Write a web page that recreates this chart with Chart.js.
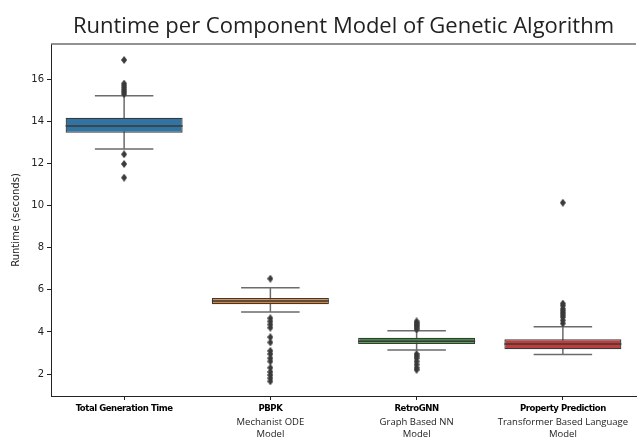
<!DOCTYPE html>
<html>
<head>
<meta charset="utf-8">
<script src="https://cdn.jsdelivr.net/npm/chart.js@4.4.1/dist/chart.umd.min.js"></script>
<style>
html, body { margin: 0; padding: 0; background: #fff; }
</style>
</head>
<body>
<canvas id="chart" width="640" height="442"></canvas>
<script>
// box plot values
const categories = ['Total Generation Time', 'PBPK', 'RetroGNN', 'Property Prediction'];
const subtitles = [[], ['Mechanist ODE', 'Model'], ['Graph Based NN', 'Model'], ['Transformer Based Language', 'Model']];
const q1 = [13.46, 5.31, 3.42, 3.18];
const medians = [13.78, 5.47, 3.56, 3.42];
const q3 = [14.18, 5.61, 3.72, 3.65];
const whiskerLow = [12.69, 4.95, 3.14, 2.93];
const whiskerHigh = [15.22, 6.10, 4.06, 4.25];
const outliers = [
	[16.92, 15.8, 15.7, 15.6, 15.5, 15.4, 15.3, 12.44, 11.98, 11.33],
	[6.53, 4.65, 4.5, 4.35, 4.2, 3.75, 3.5, 3.1, 2.95, 2.75, 2.6, 2.3, 2.1, 1.95, 1.8, 1.65],
	[4.5, 4.42, 4.35, 4.28, 4.2, 4.12, 2.95, 2.85, 2.75, 2.6, 2.45, 2.3, 2.2],
	[10.14, 5.35, 5.25, 5.1, 5.0, 4.9, 4.8, 4.7, 4.55, 4.4]
];
const yTicks = [2, 4, 6, 8, 10, 12, 14, 16];

const boxColors = ['#3274a1', '#e1812c', '#3a923a', '#c03d3e'];
const edgeColor = '#3a3a3a';
const whiskerColor = '#6b6b6b';
const titleText = 'Runtime per Component Model of Genetic Algorithm';

(function () {
	// thin diamond marker like matplotlib 'd'
	const diamond = document.createElement('canvas');
	diamond.width = 6; diamond.height = 8;
	const dctx = diamond.getContext('2d');
	dctx.fillStyle = edgeColor;
	dctx.beginPath();
	dctx.moveTo(3, 0); dctx.lineTo(6, 4); dctx.lineTo(3, 8); dctx.lineTo(0, 4);
	dctx.closePath(); dctx.fill();

	const outlierPoints = [];
	outliers.forEach((list, i) => list.forEach(v => outlierPoints.push({ x: categories[i], y: v })));

	const boxParts = {
		id: 'boxParts',
		beforeDatasetsDraw(chart) {
			const { ctx, scales: { x, y } } = chart;
			const capHalf = x.width / categories.length * 0.8 / 4;
			ctx.save();
			ctx.strokeStyle = whiskerColor; ctx.lineWidth = 1.5;
			categories.forEach((c, i) => {
				const cx = x.getPixelForValue(i);
				const lo = y.getPixelForValue(whiskerLow[i]);
				const hi = y.getPixelForValue(whiskerHigh[i]);
				ctx.beginPath();
				ctx.moveTo(cx, lo); ctx.lineTo(cx, hi);
				ctx.moveTo(cx - capHalf, lo); ctx.lineTo(cx + capHalf, lo);
				ctx.moveTo(cx - capHalf, hi); ctx.lineTo(cx + capHalf, hi);
				ctx.stroke();
			});
			ctx.restore();
		},
		afterDatasetsDraw(chart) {
			const { ctx, scales: { x, y } } = chart;
			const half = x.width / categories.length * 0.8 / 2;
			ctx.save();
			ctx.strokeStyle = edgeColor; ctx.lineWidth = 1.5;
			categories.forEach((c, i) => {
				const cx = x.getPixelForValue(i);
				const my = y.getPixelForValue(medians[i]);
				ctx.beginPath(); ctx.moveTo(cx - half, my); ctx.lineTo(cx + half, my); ctx.stroke();
			});
			ctx.restore();
		},
		afterDraw(chart) {
			const { ctx, chartArea, scales: { x } } = chart;
			ctx.save();
			// top spine
			ctx.strokeStyle = '#6e6e6e'; ctx.lineWidth = 1.5;
			ctx.beginPath(); ctx.moveTo(chartArea.left, chartArea.top); ctx.lineTo(chartArea.right, chartArea.top); ctx.stroke();
			// title
			ctx.fillStyle = '#222';
			ctx.font = '22px "Open Sans", sans-serif';
			ctx.textAlign = 'center'; ctx.textBaseline = 'alphabetic';
			ctx.fillText(titleText, (chartArea.left + chartArea.right) / 2, 33);
			// x labels: bold first line, then plain lines
			ctx.textBaseline = 'middle';
			ctx.fillStyle = '#000';
			ctx.font = 'bold 9.5px "DejaVu Sans Condensed", "DejaVu Sans", sans-serif';
			ctx.letterSpacing = '-0.45px';
			categories.forEach((c, i) => ctx.fillText(c, x.getPixelForValue(i), 409));
			ctx.letterSpacing = '0px';
			ctx.fillStyle = '#222';
			ctx.font = '9.5px "Open Sans", sans-serif';
			subtitles.forEach((lines, i) => {
				const cx = x.getPixelForValue(i);
				lines.forEach((t, k) => ctx.fillText(t, cx, 422 + k * 12));
			});
			ctx.restore();
		}
	};

	new Chart(document.getElementById('chart'), {
		data: {
			labels: categories,
			datasets: [
				{
					type: 'line', label: 'outliers', data: outlierPoints, showLine: false,
					pointStyle: diamond, pointRadius: 3, pointHoverRadius: 3
				},
				{
					type: 'bar', label: 'box',
					data: categories.map((c, i) => [q1[i], q3[i]]),
					backgroundColor: boxColors, borderColor: edgeColor, borderWidth: 1.25,
					borderSkipped: false, barPercentage: 0.8, categoryPercentage: 1
				}
			]
		},
		options: {
			responsive: false, animation: false, events: [],
			layout: { padding: { top: 44, left: 0, right: 0, bottom: 0 } },
			plugins: { legend: { display: false }, tooltip: { enabled: false }, title: { display: false } },
			scales: {
				x: {
					type: 'category', offset: true,
					grid: { offset: false, drawOnChartArea: false, drawTicks: true, tickLength: 4, color: '#222' },
					border: { display: true, color: '#222', width: 1 },
					ticks: { display: false },
					afterFit: s => { s.height = 46; }
				},
				y: {
					min: 0.955, max: 17.68,
					afterBuildTicks: s => { s.ticks = yTicks.map(v => ({ value: v })); },
					grid: { drawOnChartArea: false, drawTicks: true, tickLength: 4, color: '#222' },
					border: { display: true, color: '#222', width: 1 },
					ticks: { color: '#222', padding: 3, font: { family: '"DejaVu Sans", sans-serif', size: 10 } },
					title: {
						display: true, text: 'Runtime (seconds)', color: '#222',
						font: { family: '"DejaVu Sans", sans-serif', size: 10 }, padding: { top: 10, bottom: 0 }
					},
					afterFit: s => { s.width = 51; }
				}
			}
		},
		plugins: [boxParts]
	});
})();
</script>
</body>
</html>
